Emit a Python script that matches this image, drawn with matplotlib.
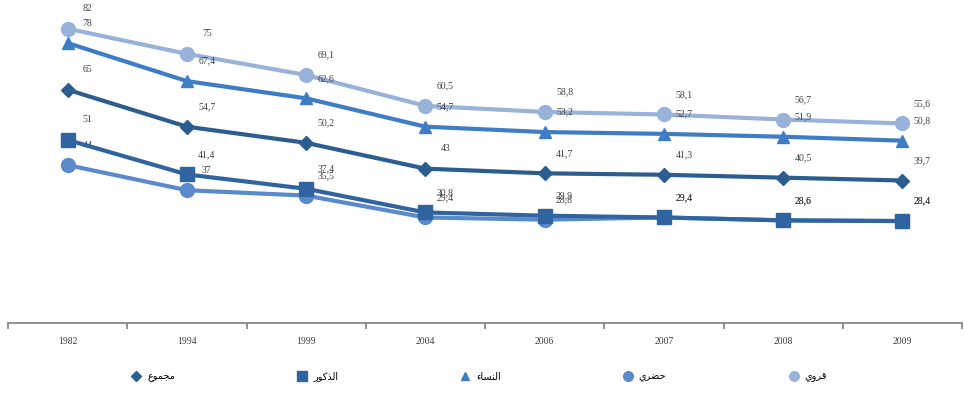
import numpy as np
import matplotlib
matplotlib.use('Agg')
import matplotlib.pyplot as plt
from matplotlib.lines import Line2D

years = ['1982', '1994', '1999', '2004', '2006', '2007', '2008', '2009']

total = [65, 54.7, 50.2, 43, 41.7, 41.3, 40.5, 39.7]
men = [51, 41.4, 37.4, 30.8, 29.9, 29.4, 28.6, 28.4]
women = [78, 67.4, 62.6, 54.7, 53.2, 52.7, 51.9, 50.8]
urban = [44, 37, 35.5, 29.4, 28.8, 29.4, 28.6, 28.4]
rural = [82, 75, 69.1, 60.5, 58.8, 58.1, 56.7, 55.6]

# Arabic names written in presentation forms, visual order, since
# matplotlib does no shaping or right-to-left layout on its own.
names = {
    'total': '\uFEC9\uFEEE\uFEE4\uFEA0\uFEE3',        # مجموع
    'men': '\uFEAD\uFEEE\uFEDB\uFEAC\uFEDF\uFE8D',    # الذكور
    'women': '\uFE80\uFE8E\uFEB4\uFEE8\uFEDF\uFE8D',  # النساء
    'urban': '\uFEF1\uFEAE\uFEC0\uFEA3',              # حضري
    'rural': '\uFEF1\uFEED\uFEAE\uFED7',              # قروي
}

series = [
    ('rural', rural, '#98B2DA', 'o', 10),
    ('women', women, '#3E7DC6', '^', 9),
    ('total', total, '#2C5D8F', 'D', 7),
    ('urban', urban, '#5A8ACB', 'o', 10),
    ('men', men, '#3064A0', 's', 10),
]

fig = plt.figure(figsize=(9.64, 3.93), dpi=100)
ax = fig.add_axes([8 / 964, 1 - 323 / 393, 954 / 964, 323 / 393])

x = np.arange(len(years))
for key, vals, color, marker, ms in series:
    ax.plot(x, vals, color=color, lw=3, marker=marker, ms=ms,
            mec=color, mfc=color, clip_on=False, zorder=3)
    for xi, v in zip(x, vals):
        txt = ('%g' % v).replace('.', ',')
        ax.annotate(txt, (xi, v), xytext=(20, 20), textcoords='offset pixels',
                    ha='center', va='center', fontsize=7, color='#404040',
                    family='Liberation Serif')

ax.set_xlim(-0.5, len(years) - 0.5)
ax.set_ylim(0, 90)

for s in ['top', 'right', 'left']:
    ax.spines[s].set_visible(False)
ax.spines['bottom'].set_color('#7F7F7F')
ax.spines['bottom'].set_linewidth(1.2)
ax.set_yticks([])

ax.set_xticks(x)
ax.set_xticklabels(years, family='Liberation Serif', fontsize=7, color='#404040')
ax.set_xticks(np.arange(-0.5, len(years)), minor=True)
ax.tick_params(axis='x', which='major', length=0, pad=10)
ax.tick_params(axis='x', which='minor', length=4, color='#7F7F7F', width=1.2)

order = ['total', 'men', 'women', 'urban', 'rural']
style = {k: (c, m, s) for k, _, c, m, s in series}
handles = []
for k in order:
    c, m, s = style[k]
    handles.append(Line2D([], [], ls='none', marker=m, color=c, ms=s * 0.7))
fig.legend(handles, [names[k] for k in order], loc='center',
           bbox_to_anchor=(0.497, 1 - 377 / 393), ncol=5, frameon=False,
           prop={'family': 'DejaVu Sans', 'size': 7}, handlelength=1,
           handletextpad=0.6, columnspacing=12.6)

fig.savefig('out.png', dpi=100)
